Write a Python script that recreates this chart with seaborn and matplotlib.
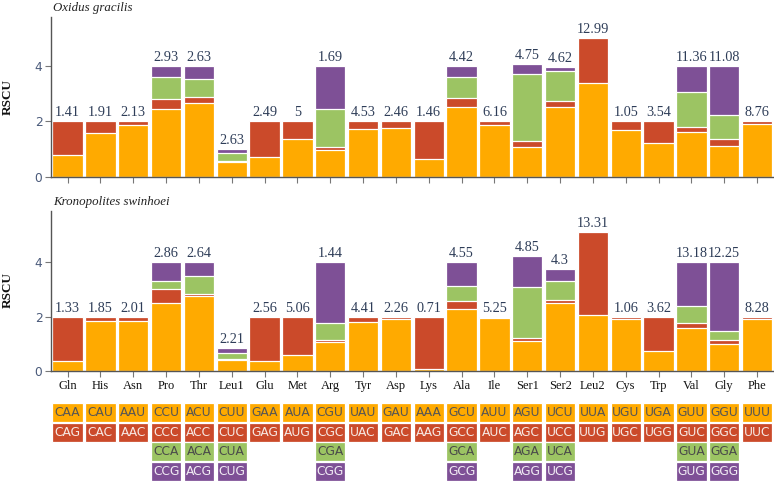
import matplotlib
matplotlib.use("Agg")
import matplotlib.pyplot as plt
import numpy as np
import seaborn as sns

amino_acids = ["Gln", "His", "Asn", "Pro", "Thr", "Leu1", "Glu", "Met", "Arg", "Tyr", "Asp",
               "Lys", "Ala", "Ile", "Ser1", "Ser2", "Leu2", "Cys", "Trp", "Val", "Gly", "Phe"]

codon1 = ["CAA", "CAU", "AAU", "CCU", "ACU", "CUU", "GAA", "AUA", "CGU", "UAU", "GAU",
          "AAA", "GCU", "AUU", "AGU", "UCU", "UUA", "UGU", "UGA", "GUU", "GGU", "UUU"]
codon2 = ["CAG", "CAC", "AAC", "CCC", "ACC", "CUC", "GAG", "AUG", "CGC", "UAC", "GAC",
          "AAG", "GCC", "AUC", "AGC", "UCC", "UUG", "UGC", "UGG", "GUC", "GGC", "UUC"]
codon3 = ["", "", "", "CCA", "ACA", "CUA", "", "", "CGA", "", "",
          "", "GCA", "", "AGA", "UCA", "", "", "", "GUA", "GGA", ""]
codon4 = ["", "", "", "CCG", "ACG", "CUG", "", "", "CGG", "", "",
          "", "GCG", "", "AGG", "UCG", "", "", "", "GUG", "GGG", ""]

# Oxidus gracilis
og_c1 = [0.78, 1.57, 1.87, 2.44, 2.65, 0.53, 0.72, 1.36, 0.96, 1.72, 1.75,
         0.64, 2.51, 1.87, 1.07, 2.53, 3.38, 1.68, 1.21, 1.61, 1.11, 1.90]
og_c2 = [1.22, 0.43, 0.13, 0.38, 0.24, 0.06, 1.28, 0.64, 0.13, 0.28, 0.25,
         1.36, 0.34, 0.13, 0.24, 0.19, 1.62, 0.32, 0.79, 0.17, 0.24, 0.10]
og_c3 = [0, 0, 0, 0.77, 0.64, 0.26, 0, 0, 1.34, 0, 0,
         0, 0.73, 0, 2.39, 1.09, 0, 0, 0, 1.27, 0.87, 0]
og_c4 = [0, 0, 0, 0.41, 0.47, 0.16, 0, 0, 1.57, 0, 0,
         0, 0.42, 0, 0.36, 0.14, 0, 0, 0, 0.95, 1.78, 0]
og_pct = [1.41, 1.91, 2.13, 2.93, 2.63, 2.63, 2.49, 5, 1.69, 4.53, 2.46,
          1.46, 4.42, 6.16, 4.75, 4.62, 12.99, 1.05, 3.54, 11.36, 11.08, 8.76]

# Kronopolites swinhoei
ks_c1 = [0.38, 1.83, 1.83, 2.50, 2.76, 0.40, 0.37, 0.59, 1.07, 1.79, 1.90,
         0.09, 2.28, 1.95, 1.10, 2.50, 2.06, 1.91, 0.75, 1.60, 0.98, 1.93]
ks_c2 = [1.62, 0.17, 0.17, 0.53, 0.09, 0.04, 1.63, 1.41, 0.08, 0.21, 0.10,
         1.91, 0.31, 0.05, 0.13, 0.10, 3.07, 0.09, 1.25, 0.18, 0.17, 0.07]
ks_c3 = [0, 0, 0, 0.30, 0.66, 0.23, 0, 0, 0.62, 0, 0,
         0, 0.53, 0, 1.85, 0.71, 0, 0, 0, 0.60, 0.33, 0]
ks_c4 = [0, 0, 0, 0.67, 0.49, 0.18, 0, 0, 2.23, 0, 0,
         0, 0.88, 0, 1.15, 0.46, 0, 0, 0, 1.62, 2.52, 0]
ks_pct = [1.33, 1.85, 2.01, 2.86, 2.64, 2.21, 2.56, 5.06, 1.44, 4.41, 2.26,
          0.71, 4.55, 5.25, 4.85, 4.3, 13.31, 1.06, 3.62, 13.18, 12.25, 8.28]

colors = ["#FFAA00", "#CB4A2A", "#9CC463", "#7E5096"]
codon_text = ["#555555", "#F7E9E4", "#4A4A4A", "#F1ECF4"]

sns.set_style("ticks")
plt.rcParams["font.family"] = ["DejaVu Sans"]
serif = "Liberation Serif"
label_col = "#2E3D58"
spine_col = "#555555"

W, H = 774, 482
fig = plt.figure(figsize=(W / 100, H / 100), dpi=100)

left = 50.5 / W
width = 723 / W
ax1 = fig.add_axes([left, 1 - 177 / H, width, 160 / H])
ax2 = fig.add_axes([left, 1 - 371 / H, width, 160.3 / H])
tax = fig.add_axes([left, 1 - 480.8 / H, width, 78 / H])


def draw_panel(ax, c1, c2, c3, c4, pct, title, ymax, show_labels):
    cum = np.cumsum([c1, c2, c3, c4], axis=0)
    # stacked: draw cumulative totals from the top layer down
    for k in range(3, -1, -1):
        sns.barplot(x=amino_acids, y=cum[k], order=amino_acids, color=colors[k],
                    saturation=1, width=0.925, edgecolor="white", linewidth=0.9,
                    errorbar=None, ax=ax)
    for i, total in enumerate(cum[3]):
        ax.annotate(f"{pct[i]:g}", (i, total), xytext=(0, 3.6), textcoords="offset points",
                    ha="center", va="baseline", fontsize=10.3, family=serif, color=label_col)
    ax.set_xlim(-0.52, len(amino_acids) - 0.5)
    ax.set_ylim(0, ymax)
    ax.set_yticks([0, 2, 4])
    ax.set_xlabel("")
    ax.set_ylabel("")
    sns.despine(ax=ax)
    for s in ["left", "bottom"]:
        ax.spines[s].set_color(spine_col)
        ax.spines[s].set_linewidth(1.0)
    ax.tick_params(axis="y", length=4.3, width=0.8, color="#777777", labelsize=8.8,
                   labelcolor="#4A5A7A", pad=1.5)
    ax.tick_params(axis="x", length=4.3, width=0.8, color="#777777", pad=2.5)
    ax.set_xticks(range(len(amino_acids)))
    if show_labels:
        ax.set_xticklabels(amino_acids, fontsize=9, family=serif, color="#111111")
    else:
        ax.set_xticklabels([])
    ax.text(0.004, 1.0 + 9 / 160, title, transform=ax.transAxes, ha="left", va="center",
            fontsize=9.3, family=serif, style="italic", color="#222222")


draw_panel(ax1, og_c1, og_c2, og_c3, og_c4, og_pct, "Oxidus gracilis", 5.75, False)
draw_panel(ax2, ks_c1, ks_c2, ks_c3, ks_c4, ks_pct, "Kronopolites swinhoei", 5.9, True)

fig.text(7.5 / W, 1 - 97 / H, "RSCU", rotation=90, ha="center", va="center",
         fontsize=9.5, family=serif, weight="bold", color="#111111")
fig.text(7.5 / W, 1 - 290.5 / H, "RSCU", rotation=90, ha="center", va="center",
         fontsize=9.5, family=serif, weight="bold", color="#111111")

# codon table under the bars
for r, row in enumerate([codon1, codon2, codon3, codon4]):
    idx = [i for i, c in enumerate(row) if c]
    tax.bar(idx, 0.97, bottom=r + 0.015, width=0.925, color=colors[r],
            edgecolor="white", linewidth=0.9)
    for i in idx:
        tax.text(i, r + 0.52, row[i], ha="center", va="center", fontsize=8.8,
                 color=codon_text[r])
tax.set_xlim(-0.52, len(amino_acids) - 0.5)
tax.set_ylim(4, 0)
tax.axis("off")

fig.savefig("out.png", dpi=100)
